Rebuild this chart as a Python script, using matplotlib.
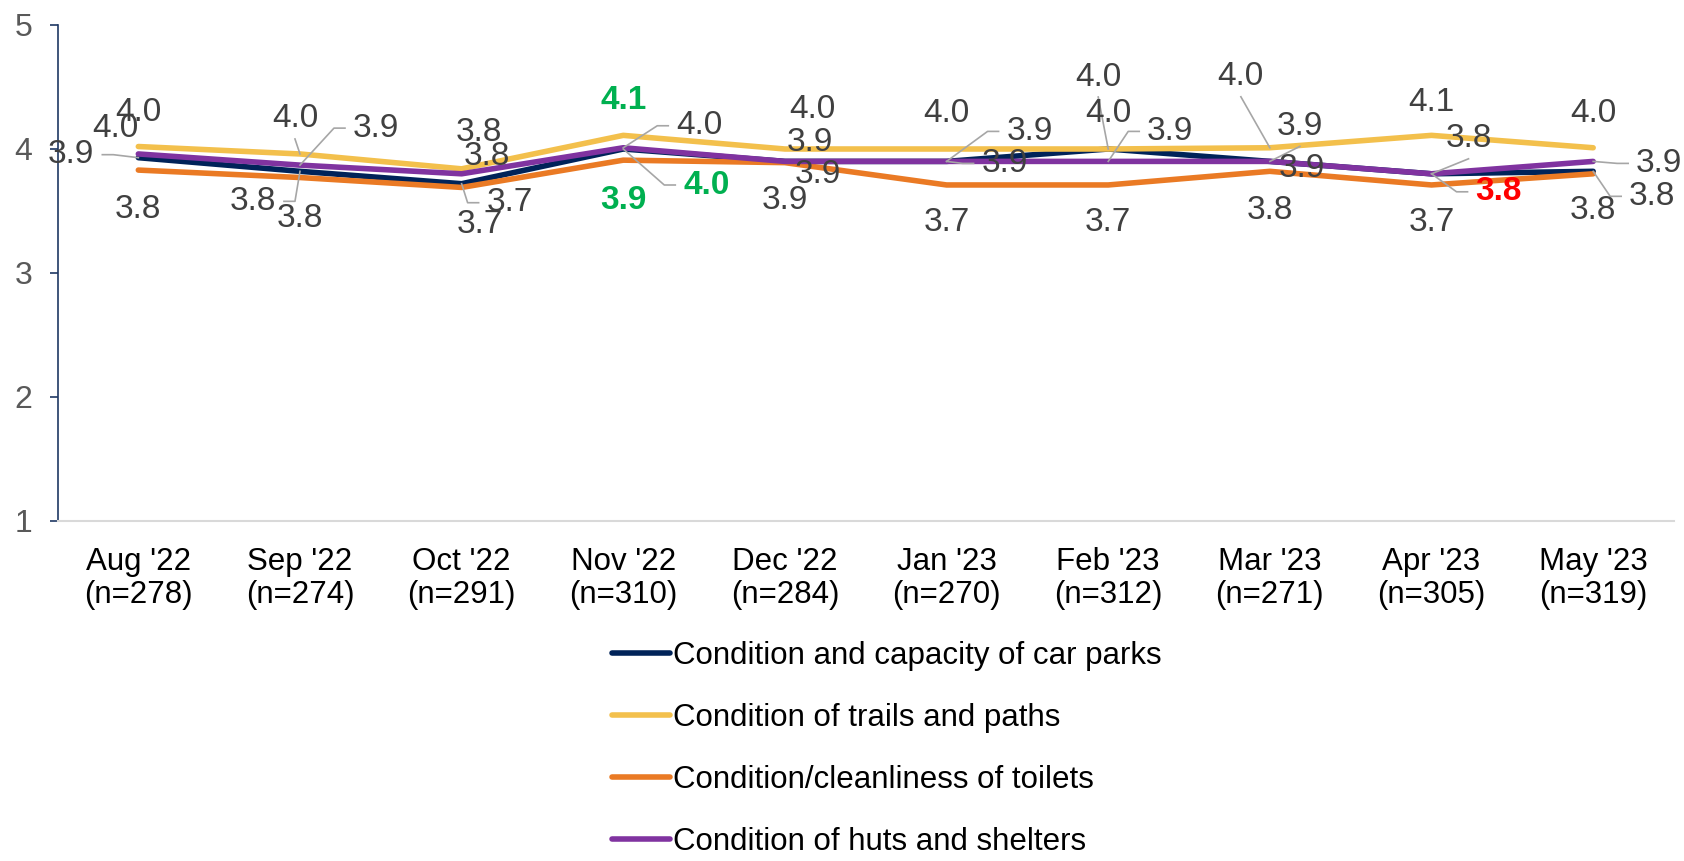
import matplotlib
matplotlib.use("Agg")
import matplotlib.pyplot as plt

plt.rcParams['font.family'] = ['Liberation Sans', 'DejaVu Sans']

# Data
months = ["Aug '22", "Sep '22", "Oct '22", "Nov '22", "Dec '22",
          "Jan '23", "Feb '23", "Mar '23", "Apr '23", "May '23"]
sample_n = [278, 274, 291, 310, 284, 270, 312, 271, 305, 319]

car_parks = [3.93, 3.82, 3.72, 4.00, 3.90, 3.90, 4.00, 3.90, 3.80, 3.82]
trails = [4.02, 3.96, 3.84, 4.11, 4.00, 4.00, 4.00, 4.01, 4.11, 4.01]
toilets = [3.83, 3.77, 3.69, 3.91, 3.89, 3.71, 3.71, 3.82, 3.71, 3.80]
huts = [3.96, 3.87, 3.80, 4.01, 3.90, 3.90, 3.90, 3.90, 3.80, 3.90]

series_names = ["Condition and capacity of car parks",
                "Condition of trails and paths",
                "Condition/cleanliness of toilets",
                "Condition of huts and shelters"]
series_colors = ['#002359', '#F3C04C', '#EA7A24', '#8033A0']

# label placement: (dx, dy) in pixels, dy positive = down, leader type
car_lab = [(-67, -3, 'R'), (-47, 30, 'R'), (48, 19, 'L'), (83, 36, 'L'), (33, 13, None),
           (83, -30, 'L'), (0, -35, None), (30, -35, 'B'), (67, 18, 'L'), (59, 25, 'L')]
trail_lab = [(0, -34, None), (-5, -35, 'B'), (17, -36, None), (0, -35, None), (27, -40, None),
             (0, -35, None), (-10, -72, 'B'), (-29, -71, 'B'), (0, -33, None), (0, -34, None)]
toilet_lab = [(0, 39, None), (0, 41, None), (18, 37, None), (0, 40, None), (0, 38, None),
              (0, 38, None), (0, 38, None), (0, 39, None), (0, 38, None), (0, 37, None)]
hut_lab = [(-23, -25, None), (76, -37, 'L'), (25, -17, None), (76, -22, 'L'), (25, -19, None),
           (58, 2, 'L'), (62, -30, 'L'), (32, 7, None), (37, -35, 'B'), (66, 2, 'L')]

# highlighted labels (series index, month index) -> colour
highlight = {(0, 3): '#00B050', (1, 3): '#00B050', (2, 3): '#00B050', (0, 8): '#FF0000'}

W, H = 1684, 861
fig = plt.figure(figsize=(W / 100, H / 100), dpi=100)
ax = fig.add_axes([57.5 / W, 1 - 521 / H, (1674 - 57.5) / W, (521 - 25) / H])

x = list(range(len(months)))
all_series = [car_parks, trails, toilets, huts]
labels_all = [car_lab, trail_lab, toilet_lab, hut_lab]

for vals, name, col in zip(all_series, series_names, series_colors):
    ax.plot(x, vals, color=col, lw=4.0, label=name,
            solid_capstyle='round', solid_joinstyle='round')

ax.set_xlim(-0.5, len(months) - 0.5)
ax.set_ylim(1, 5)
ax.set_yticks([1, 2, 3, 4, 5])
ax.set_xticks(x)
ax.set_xticklabels([f"{m}\n(n={n})" for m, n in zip(months, sample_n)],
                   fontsize=22.5, color='#000000', linespacing=1.1)
ax.tick_params(axis='x', length=0, pad=19)
ax.tick_params(axis='y', length=6, width=1.2, color='#1F3864', labelsize=23,
               labelcolor='#595959', pad=12)
for s in ['top', 'right']:
    ax.spines[s].set_visible(False)
ax.spines['left'].set_color('#1F3864')
ax.spines['left'].set_linewidth(1.2)
ax.spines['bottom'].set_color('#D9D9D9')
ax.spines['bottom'].set_linewidth(1.5)

# pixel scale of data units
px_x = (1674 - 57.5) / (len(months))
px_y = (521 - 25) / 4.0
half_w = 23   # half width of a "4.0" label in pixels
half_h = 20

for si, (vals, labs) in enumerate(zip(all_series, labels_all)):
    for mi, (v, (dx, dy, lead)) in enumerate(zip(vals, labs)):
        col = highlight.get((si, mi), '#404040')
        bold = (si, mi) in highlight
        ax.annotate(f"{v:.1f}", (mi, v), xytext=(dx, -dy), textcoords='offset pixels',
                    ha='center', va='center', fontsize=24, color=col,
                    fontweight='bold' if bold else 'normal', zorder=5)
        if lead is None:
            continue
        lx, ly = dx, dy
        if lead == 'L':
            sx = lx - half_w - 8
            pts = [(sx, ly), (sx - 11, ly), (0, 0)]
        elif lead == 'R':
            sx = lx + half_w + 8
            pts = [(sx, ly), (sx + 11, ly), (0, 0)]
        else:
            pts = [(lx, ly + half_h), (0, 0)]
        xs = [mi + p[0] / px_x for p in pts]
        ys = [v - p[1] / px_y for p in pts]
        ax.plot(xs, ys, color='#A6A6A6', lw=1.2, zorder=4)

leg = fig.legend(loc='upper left', bbox_to_anchor=(612 / W, 1 - 641 / H),
                 bbox_transform=fig.transFigure, frameon=False, fontsize=22.5,
                 handlelength=1.85, handletextpad=0.1, labelspacing=1.02,
                 borderpad=0, borderaxespad=0)
for t in leg.get_texts():
    t.set_color('#000000')

fig.savefig('out.png', dpi=100)
